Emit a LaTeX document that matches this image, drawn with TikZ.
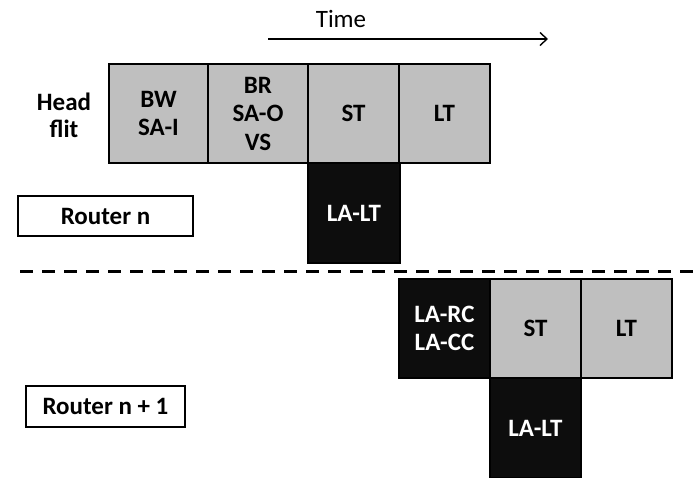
\documentclass[tikz,border=0pt]{standalone}
\usepackage{fontspec}
\setmainfont{Carlito}
\usetikzlibrary{arrows.meta}
\definecolor{stagegray}{HTML}{BFBFBF}
\definecolor{stageblack}{HTML}{0D0D0D}
\tikzset{
  stage/.style={draw=black, line width=1.5pt, fill=stagegray, text=black,
    font=\fontsize{25}{28.5}\selectfont\bfseries, align=center, inner sep=0pt},
  lastage/.style={stage, fill=stageblack, text=white},
  routerbox/.style={draw=black, line width=2pt, fill=white, inner sep=0pt,
    font=\fontsize{25}{28}\selectfont\bfseries},
  plainlabel/.style={font=\fontsize{25}{27}\selectfont\bfseries, align=center, inner sep=0pt},
}
\begin{document}
\begin{tikzpicture}[x=1pt, y=-1pt]
\useasboundingbox (0,0) rectangle (700,477);
% time axis
\node[font=\fontsize{25}{28}\selectfont, inner sep=0pt] (time) at (341,19) {Time};
\coordinate (t0) at (268,39);
\coordinate (t1) at (548,39);
\draw[line width=1.4pt, -{Straight Barb[length=7pt, width=13pt, line width=1.4pt]}] (t0) -- (t1);
% router n pipeline
\node[plainlabel] (head) at (64,115) {Head\\flit};
\node[stage, minimum width=99pt, minimum height=99pt] (bw) at (158.5,113.5) {BW\\SA-I};
\node[stage, minimum width=100pt, minimum height=99pt] (br) at (258,113.5) {BR\\SA-O\\VS};
\node[stage, minimum width=91pt, minimum height=99pt] (st) at (353.5,113.5) {ST};
\node[stage, minimum width=91pt, minimum height=99pt] (lt) at (444.5,113.5) {LT};
\node[lastage, minimum width=92pt, minimum height=100pt] (lalt) at (354,213) {LA-LT};
\node[routerbox, minimum width=175pt, minimum height=40pt] (rn) at (105.5,216) {Router n};
% separation between the two routers
\coordinate (d0) at (20,271);
\coordinate (d1) at (700,271);
\draw[line width=3pt, dash pattern=on 13pt off 9pt] (d0) -- (d1);
% router n+1 pipeline
\node[lastage, minimum width=91pt, minimum height=99pt] (larc) at (444.5,328.5) {LA-RC\\LA-CC};
\node[stage, minimum width=91pt, minimum height=99pt] (st2) at (535.5,328.5) {ST};
\node[stage, minimum width=91pt, minimum height=99pt] (lt2) at (626.5,328.5) {LT};
\node[lastage, minimum width=91pt, minimum height=100pt] (lalt2) at (535.5,428) {LA-LT};
\node[routerbox, minimum width=159pt, minimum height=41pt] (rn1) at (105.5,406.5) {Router n + 1};
\end{tikzpicture}
\end{document}
